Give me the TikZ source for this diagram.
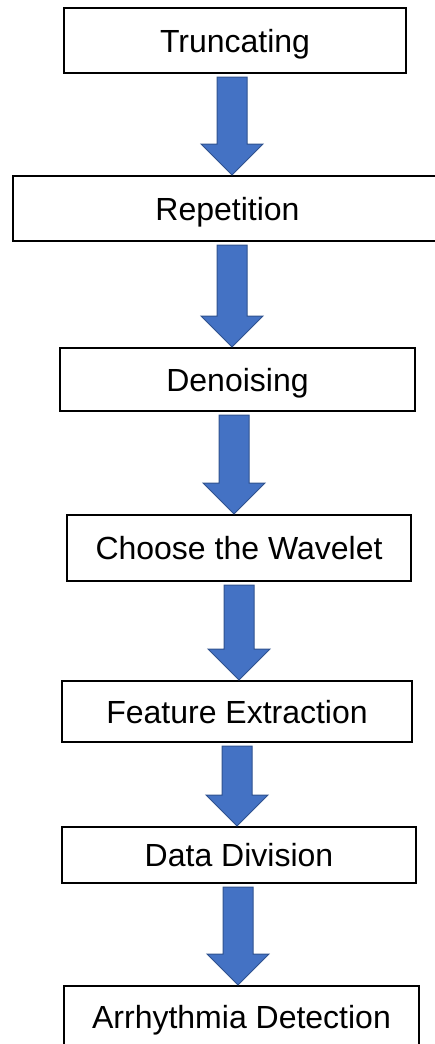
\documentclass[tikz,border=0pt]{standalone}
\usepackage{fontspec}
\setmainfont{Liberation Sans}
\usepackage{xcolor}
\usepackage{tikz}
\usetikzlibrary{calc}

\definecolor{arrowfill}{HTML}{4472C4}
\definecolor{arrowline}{HTML}{2F528F}

% block arrow from the bottom of one box to the top of the next
\newcommand{\flowarrow}[3]{%
  \path[barr] let \p1=(#1.south), \p2=(#2.north) in
    (#3pt-15pt,\y1-3pt) -- (#3pt+15pt,\y1-3pt) -- (#3pt+15pt,\y2+31pt)
    -- (#3pt+31pt,\y2+31pt) -- (#3pt,\y2) -- (#3pt-31pt,\y2+31pt)
    -- (#3pt-15pt,\y2+31pt) -- cycle;}

\begin{document}
\begin{tikzpicture}[
    x=1pt, y=-1pt,
    pnode/.style={rectangle, draw=black, line width=2pt, fill=white, align=center, inner sep=0pt,
                  text height=23pt, text depth=0pt, font=\fontsize{32}{38}\selectfont},
    barr/.style={fill=arrowfill, draw=arrowline, line width=1pt, line join=miter}
]
\useasboundingbox (0,0) rectangle (435,1044);

\node[pnode, minimum width=342pt, minimum height=65pt] (s1_trunc) at (235,40.5) {Truncating};
\node[pnode, minimum width=429pt, minimum height=65pt] (s2_rep) at (227.5,208.5) {Repetition};
\node[pnode, minimum width=355pt, minimum height=63pt] (s3_den) at (237.5,379.5) {Denoising};
\node[pnode, minimum width=344pt, minimum height=66pt] (s4_wav) at (239,548) {Choose the Wavelet};
\node[pnode, minimum width=350pt, minimum height=61pt] (s5_feat) at (237,711.5) {Feature Extraction};
\node[pnode, minimum width=354pt, minimum height=56pt] (s6_div) at (239,855) {Data Division};
\node[pnode, minimum width=355pt, minimum height=62pt] (s7_det) at (241.5,1017) {Arrhythmia Detection};

\flowarrow{s1_trunc}{s2_rep}{232}
\flowarrow{s2_rep}{s3_den}{232}
\flowarrow{s3_den}{s4_wav}{234}
\flowarrow{s4_wav}{s5_feat}{239}
\flowarrow{s5_feat}{s6_div}{237}
\flowarrow{s6_div}{s7_det}{238}

\end{tikzpicture}
\end{document}
